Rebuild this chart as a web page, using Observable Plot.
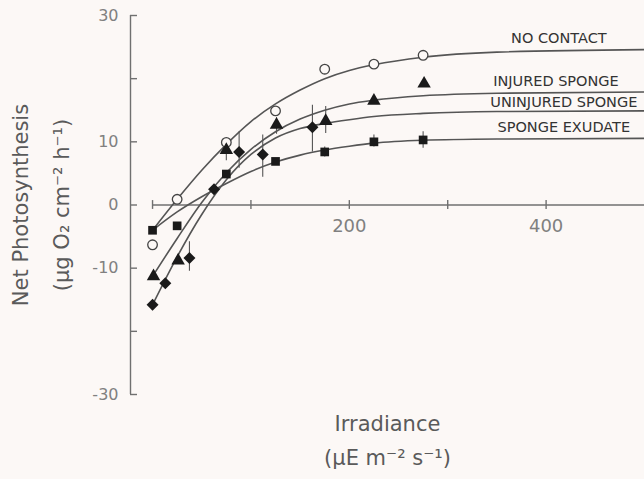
<!DOCTYPE html>
<html><head><meta charset="utf-8">
<script src="https://cdn.jsdelivr.net/npm/d3@7"></script>
<script src="https://cdn.jsdelivr.net/npm/@observablehq/plot@0.6"></script>
<style>
html,body{margin:0;padding:0;background:#fcf8f6;}
#chart{width:644px;height:479px;overflow:hidden;}
</style></head><body><div id="chart"></div>
<script>
// ---- data ----
// measured points (irradiance, net photosynthesis)
const noContactX = [0, 25, 75, 125, 175, 225, 275];
const noContactY = [-6.3, 0.9, 9.9, 14.9, 21.5, 22.3, 23.7];
const injuredX = [1, 26, 75, 126, 176, 225, 276];
const injuredY = [-11.3, -8.8, 8.7, 12.7, 13.3, 16.5, 19.2];
const uninjuredX = [0, 13, 37.5, 62.5, 88, 112, 162.5];
const uninjuredY = [-15.8, -12.4, -8.4, 2.5, 8.4, 8.0, 12.3];
const exudateX = [0, 25, 75, 125, 175, 225, 275];
const exudateY = [-4.0, -3.3, 4.9, 6.9, 8.4, 10.0, 10.3];

// fitted curves
const curveX = [0, 25, 50, 75, 100, 125, 150, 175, 200, 225, 275, 350, 500];
const noContactCurve = [-4.0, 0.9, 5.5, 9.6, 13.2, 16.0, 18.2, 20.0, 21.3, 22.2, 23.4, 24.2, 24.6];
const injuredCurve = [-11.3, -5.3, 0.4, 5.1, 8.8, 11.6, 13.6, 15.0, 16.0, 16.6, 17.3, 17.7, 17.9];
const uninjuredCurve = [-15.8, -8.2, -1.5, 4.0, 8.0, 10.6, 12.1, 12.9, 13.5, 14.0, 14.5, 14.8, 14.9];
const exudateCurve = [-4.0, -1.1, 1.3, 3.4, 5.3, 6.8, 7.9, 8.7, 9.3, 9.8, 10.25, 10.45, 10.55];

// error bars
const errX = [37.5, 75, 88, 112, 126, 162.5, 176, 175, 225, 275];
const errLow = [-10.5, 7.0, 5.8, 4.4, 11.2, 8.4, 11.3, 7.6, 9.2, 9.0];
const errHigh = [-5.8, 9.0, 11.6, 11.1, 13.8, 15.8, 15.6, 9.2, 11.1, 11.6];

// curve labels
const seriesLabels = ["NO CONTACT", "INJURED SPONGE", "UNINJURED SPONGE", "SPONGE EXUDATE"];
const labelX = [413, 410, 418, 418];
const labelY = [26.4, 19.5, 16.3, 12.3];

// axes
const xTicks = [0, 100, 200, 300, 400];
const xTickLabels = [200, 400];
const yTicks = [-30, -20, -10, 0, 10, 20, 30];
const yTickLabels = [30, 10, 0, -10, -30];
const xDomain = [-22.4, 500];
const yDomain = [-30, 30];

// ---- build tables ----
const pts = (xs, ys) => xs.map((x, i) => ({x, y: ys[i]}));
const curve = (ys) => curveX.map((x, i) => ({x, y: ys[i]}));
const errs = errX.map((x, i) => ({x, lo: errLow[i], hi: errHigh[i]}));
const labels = seriesLabels.map((t, i) => ({t, x: labelX[i], y: labelY[i]}));

const W = 644, H = 479, ML = 130, MR = 0;
const axisColor = "#707070", lineColor = "#555", markColor = "#1a1a1a", textColor = "#5a5a5a";
const font = "DejaVu Sans";

const lineOpts = {x: "x", y: "y", curve: "monotone-x", stroke: lineColor, strokeWidth: 1.6};

const chart = Plot.plot({
  width: W, height: H,
  marginLeft: ML, marginRight: MR, marginTop: 15, marginBottom: 85,
  style: {background: "#fcf8f6", fontFamily: font, fontWeight: 400, overflow: "visible"},
  x: {domain: xDomain, axis: null},
  y: {domain: yDomain, axis: null},
  marks: [
    // y axis
    Plot.ruleX([xDomain[0]], {y1: yDomain[0], y2: yDomain[1], stroke: axisColor, strokeWidth: 1.4}),
    Plot.tickY(yTicks, {y: d => d, insetRight: W - ML - MR - 7, stroke: axisColor, strokeWidth: 1.4}),
    Plot.text(yTickLabels, {x: xDomain[0], y: d => d, text: d => String(d), textAnchor: "end", dx: -12, fontSize: 16, fill: "#808080"}),
    // x axis
    Plot.ruleY([0], {x1: 0, x2: xDomain[1], stroke: axisColor, strokeWidth: 1.4}),
    Plot.ruleX(xTicks, {x: d => d, y1: -0.7, y2: 0.7, stroke: axisColor, strokeWidth: 1.4}),
    Plot.text(xTickLabels, {x: d => d, y: 0, dy: 21, text: d => String(d), fontSize: 18, fill: "#808080"}),
    // fitted curves
    Plot.line(curve(noContactCurve), lineOpts),
    Plot.line(curve(injuredCurve), lineOpts),
    Plot.line(curve(uninjuredCurve), lineOpts),
    Plot.line(curve(exudateCurve), lineOpts),
    // error bars
    Plot.ruleX(errs, {x: "x", y1: "lo", y2: "hi", stroke: "#555", strokeWidth: 1.1}),
    // points
    Plot.dot(pts(noContactX, noContactY), {x: "x", y: "y", r: 4.8, symbol: "circle", fill: "#fcf8f6", stroke: "#444", strokeWidth: 1.3}),
    Plot.dot(pts(injuredX, injuredY), {x: "x", y: "y", r: 5, symbol: "triangle", fill: markColor}),
    Plot.dot(pts(uninjuredX, uninjuredY), {x: "x", y: "y", r: 5.4, symbol: "diamond2", fill: markColor}),
    Plot.dot(pts(exudateX, exudateY), {x: "x", y: "y", r: 4.9, symbol: "square", fill: markColor}),
    // series labels
    Plot.text(labels, {x: "x", y: "y", text: "t", fontSize: 14.5, fill: "#333", textAnchor: "middle"}),
    // axis titles
    Plot.text(["Net Photosynthesis"], {frameAnchor: "left", dx: -109, rotate: -90, textAnchor: "middle", lineAnchor: "middle", fontSize: 21, fill: textColor}),
    Plot.text(["(\u03bcg O\u2082 cm\u207b\u00b2 h\u207b\u00b9)"], {frameAnchor: "left", dx: -68, rotate: -90, textAnchor: "middle", lineAnchor: "middle", fontSize: 21, fill: textColor}),
    Plot.text(["Irradiance"], {frameAnchor: "bottom", dy: 30, textAnchor: "middle", lineAnchor: "middle", fontSize: 21, fill: textColor}),
    Plot.text(["(\u03bcE m\u207b\u00b2 s\u207b\u00b9)"], {frameAnchor: "bottom", dy: 64, textAnchor: "middle", lineAnchor: "middle", fontSize: 21, fill: textColor})
  ]
});
document.getElementById("chart").appendChild(chart);
</script>
</body></html>
